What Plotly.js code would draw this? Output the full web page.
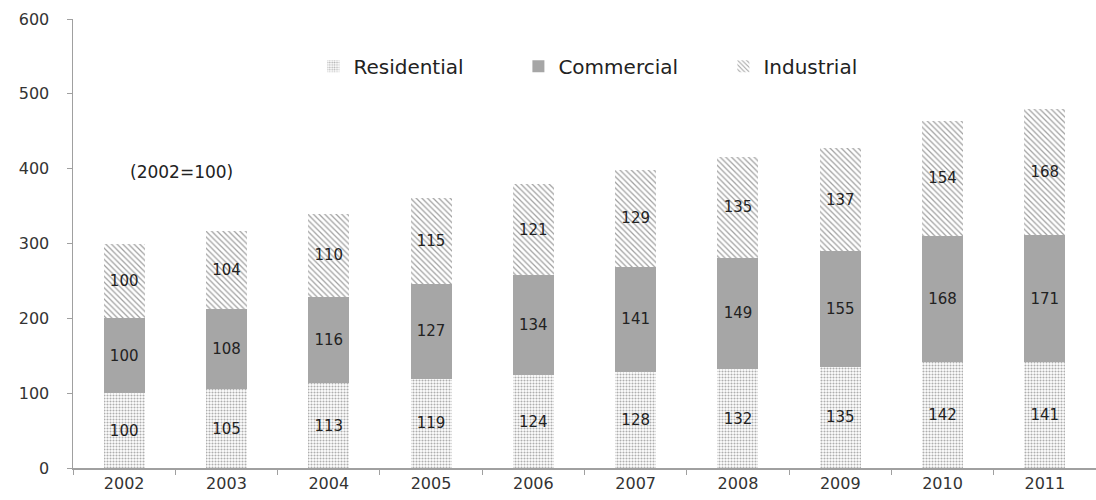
<!DOCTYPE html>
<html>
<head>
<meta charset="utf-8">
<script src="https://cdn.plot.ly/plotly-3.0.1.min.js"></script>
<style>html,body{margin:0;padding:0;background:#fff;}#chart{width:1096px;height:500px;}</style>
</head>
<body>
<div id="chart"></div>
<script>
const years = ['2002','2003','2004','2005','2006','2007','2008','2009','2010','2011'];
const residential = [100,105,113,119,124,128,132,135,142,141];
const commercial  = [100,108,116,127,134,141,149,155,168,171];
const industrial  = [100,104,110,115,121,129,135,137,154,168];
const yTicks = [0,100,200,300,400,500,600];

const font = 'DejaVu Sans, Verdana, sans-serif';
const labelFont = {family: font, size: 15, color: '#222'};

function trace(name, vals, marker) {
  return {
    type: 'bar', name: name, x: years, y: vals,
    text: vals.map(String), textposition: 'inside', insidetextanchor: 'middle',
    textangle: 0, constraintext: 'none', textfont: labelFont,
    marker: marker, hoverinfo: 'skip'
  };
}

const data = [
  trace('Residential', residential, {color: '#ffffff', line: {width: 0},
    pattern: {shape: '.', fgcolor: '#5e5e5e', bgcolor: '#ffffff', size: 3, solidity: 0.4, fillmode: 'overlay'}}),
  trace('Commercial', commercial, {color: '#a6a6a6', line: {width: 0}}),
  trace('Industrial', industrial, {color: '#ffffff', line: {width: 0},
    pattern: {shape: '\\', fgcolor: '#444444', bgcolor: '#ffffff', size: 4, solidity: 0.32, fillmode: 'overlay'}})
];

const layout = {
  width: 1096, height: 500,
  margin: {l: 73, r: 0, t: 19, b: 32},
  paper_bgcolor: '#ffffff', plot_bgcolor: '#ffffff',
  barmode: 'stack', bargap: 0.6,
  font: {family: font, color: '#333'},
  showlegend: true,
  legend: {orientation: 'h', x: 0.235, xanchor: 'left', y: 0.895, yanchor: 'middle',
    font: {family: font, size: 20, color: '#222'}, entrywidth: 160, entrywidthmode: 'pixels',
    itemwidth: 30, traceorder: 'normal', bgcolor: 'rgba(0,0,0,0)'},
  xaxis: {type: 'category', range: [-0.5, 9.5], showline: true, linecolor: '#a0a0a0', linewidth: 1.5,
    ticks: 'outside', tickson: 'boundaries', ticklen: 5, tickcolor: '#a0a0a0',
    showgrid: false, zeroline: false, tickfont: {family: font, size: 16, color: '#333'}, fixedrange: true},
  yaxis: {range: [0, 600], tickvals: yTicks, ticktext: yTicks.map(String), showline: true, linecolor: '#a0a0a0', linewidth: 1.5,
    ticks: 'outside', ticklen: 5, tickcolor: '#a0a0a0', ticklabelstandoff: 14,
    showgrid: false, zeroline: false, tickfont: {family: font, size: 16, color: '#333'}, fixedrange: true},
  annotations: [{x: 0.56, y: 396, xref: 'x', yref: 'y', text: '(2002=100)', showarrow: false,
    font: {family: font, size: 17, color: '#222'}}]
};

Plotly.newPlot('chart', data, layout, {staticPlot: true, displayModeBar: false});
</script>
</body>
</html>
